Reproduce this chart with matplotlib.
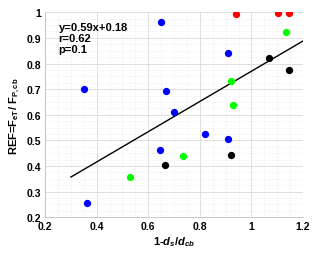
import matplotlib
matplotlib.use('Agg')
import matplotlib.pyplot as plt
from matplotlib.ticker import MultipleLocator

# Data
blue_x = [0.648, 0.351, 0.670, 0.699, 0.910, 0.821, 0.910, 0.646, 0.361]
blue_y = [0.963, 0.700, 0.694, 0.611, 0.841, 0.526, 0.504, 0.464, 0.256]
red_x = [0.942, 1.101, 1.146]
red_y = [0.995, 0.998, 0.999]
green_x = [1.133, 0.920, 0.928, 0.733, 0.528]
green_y = [0.923, 0.731, 0.639, 0.439, 0.357]
black_x = [1.068, 1.146, 0.922, 0.663]
black_y = [0.821, 0.776, 0.443, 0.403]

slope = 0.59
intercept = 0.18
fit_x = [0.3, 1.2]
fit_y = [slope * v + intercept for v in fit_x]
stats = ['y=0.59x+0.18', 'r=0.62', 'p=0.1']

plt.rcParams['font.family'] = 'Liberation Sans'
plt.rcParams['font.weight'] = 'bold'
plt.rcParams['mathtext.fontset'] = 'custom'
plt.rcParams['mathtext.rm'] = 'Liberation Sans:bold'
plt.rcParams['mathtext.it'] = 'Liberation Sans:italic:bold'
plt.rcParams['mathtext.bf'] = 'Liberation Sans:bold'

fig = plt.figure(figsize=(3.2, 2.55), dpi=100)
ax = fig.add_axes([0.141, 0.144, 0.806, 0.804])

ax.scatter(blue_x, blue_y, s=18, color='#0000ff', zorder=3)
ax.scatter(red_x, red_y, s=18, color='#ff0000', zorder=3)
ax.scatter(green_x, green_y, s=18, color='#00ff00', zorder=3)
ax.scatter(black_x, black_y, s=18, color='black', zorder=3)
ax.plot(fit_x, fit_y, color='black', linewidth=1.0, zorder=2)

ax.text(0.252, 0.962, '\n'.join(stats), fontsize=8, fontweight='bold',
        va='top', ha='left', linespacing=1.12)

ax.set_xlim(0.2, 1.2)
ax.set_ylim(0.2, 1.0)
ax.xaxis.set_minor_locator(MultipleLocator(0.05))
ax.yaxis.set_minor_locator(MultipleLocator(0.025))
ax.set_xticks([0.2, 0.4, 0.6, 0.8, 1.0, 1.2])
ax.set_xticklabels(['0.2', '0.4', '0.6', '0.8', '1', '1.2'])
ax.set_yticks([0.2, 0.3, 0.4, 0.5, 0.6, 0.7, 0.8, 0.9, 1.0])
ax.set_yticklabels(['0.2', '0.3', '0.4', '0.5', '0.6', '0.7', '0.8', '0.9', '1'])

ax.grid(True, which='major', color='#d9d9d9', linewidth=0.6)
ax.grid(True, which='minor', color='#e6e6e6', linewidth=0.5, linestyle=':')
ax.set_axisbelow(True)
for side in ['top', 'right']:
    ax.spines[side].set_visible(False)
for side in ['left', 'bottom']:
    ax.spines[side].set_color('#bfbfbf')
    ax.spines[side].set_linewidth(0.6)
ax.tick_params(which='both', length=0, labelsize=7.5, pad=3)
for lab in ax.get_xticklabels() + ax.get_yticklabels():
    lab.set_fontweight('bold')

ax.set_xlabel(r'1-$d_s$/$d_{cb}$', fontsize=8, fontweight='bold', labelpad=2)
ax.set_ylabel(r'REF=F$_{\mathrm{eT}}$/ F$_{\mathrm{P,cb}}$', fontsize=8, fontweight='bold', labelpad=3)

fig.savefig('out.png', dpi=100)
